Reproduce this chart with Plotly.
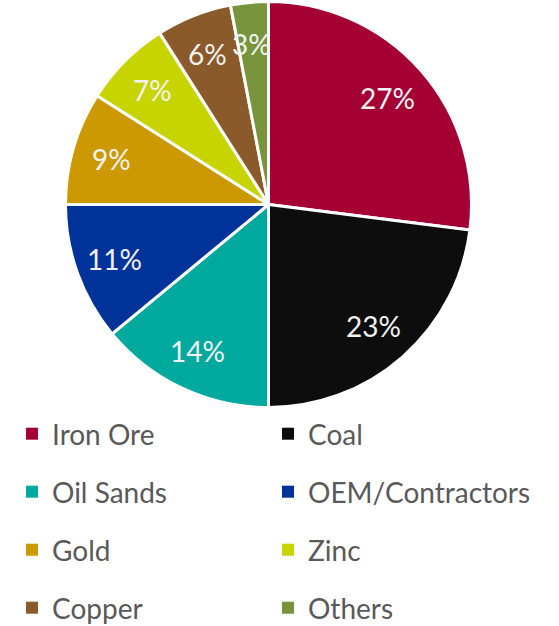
import math
import plotly.graph_objects as go

# Share by industry (%)
industries = ["Iron Ore", "Coal", "Oil Sands", "OEM/Contractors",
              "Gold", "Zinc", "Copper", "Others"]
shares = [27, 23, 14, 11, 9, 7, 6, 3]
colors = ["#A50034", "#0D0D0D", "#00A99D", "#003399",
          "#CC9900", "#C8D400", "#8B5A2B", "#77933C"]

W, H = 559, 626
FONT = "Lato"

# Pie geometry in pixels
cx, cy, r = 268.5, 204.5, 202.0
r_dom = min(r + 1, cy)

fig = go.Figure()
fig.add_trace(go.Pie(
    labels=industries,
    values=shares,
    sort=False,
    direction="clockwise",
    rotation=0,
    marker=dict(colors=colors, line=dict(color="white", width=3)),
    textinfo="none",
    hoverinfo="label+percent",
    showlegend=False,
    domain=dict(x=[(cx - r_dom) / W, (cx + r_dom) / W],
                y=[1 - (cy + r_dom) / H, min(1.0, 1 - (cy - r_dom) / H)]),
))

# Percentage labels placed along each slice's mid-angle
total = sum(shares)
cum = 0.0
annotations = []
for v in shares:
    mid = (cum + v / 2) / total * 2 * math.pi
    cum += v
    px = cx + 0.8 * r * math.sin(mid) - 2
    py = cy - 0.8 * r * math.cos(mid)
    annotations.append(dict(
        x=px / W, y=1 - py / H, xref="paper", yref="paper",
        text=f"{v}%", showarrow=False,
        xanchor="center", yanchor="middle",
        font=dict(family=FONT, size=28, color="#F2F2F2"),
    ))

# Legend: two columns, four rows, one legend box per entry
col_x = [32, 288]
row_y = [434, 492, 550, 608]
legend_layout = {}
for i, (name, col) in enumerate(zip(industries, colors)):
    key = "legend" if i == 0 else f"legend{i + 1}"
    fig.add_trace(go.Scatter(
        x=[None], y=[None], mode="markers", name=name,
        marker=dict(symbol="square", size=12, color=col),
        legend=key, showlegend=True, hoverinfo="skip",
    ))
    lx = col_x[i % 2] - 20
    ly = row_y[i // 2]
    legend_layout[key] = dict(
        x=lx / W, y=1 - ly / H, xanchor="left", yanchor="middle",
        orientation="h", bgcolor="rgba(0,0,0,0)", borderwidth=0,
        font=dict(family=FONT, size=28, color="#595959"),
        itemclick=False, itemdoubleclick=False,
    )

fig.update_layout(
    width=W, height=H,
    margin=dict(l=0, r=0, t=0, b=0, autoexpand=False),
    paper_bgcolor="white", plot_bgcolor="white",
    xaxis=dict(visible=False), yaxis=dict(visible=False),
    annotations=annotations,
    showlegend=True,
    **legend_layout,
)

fig.write_html("out.html")
